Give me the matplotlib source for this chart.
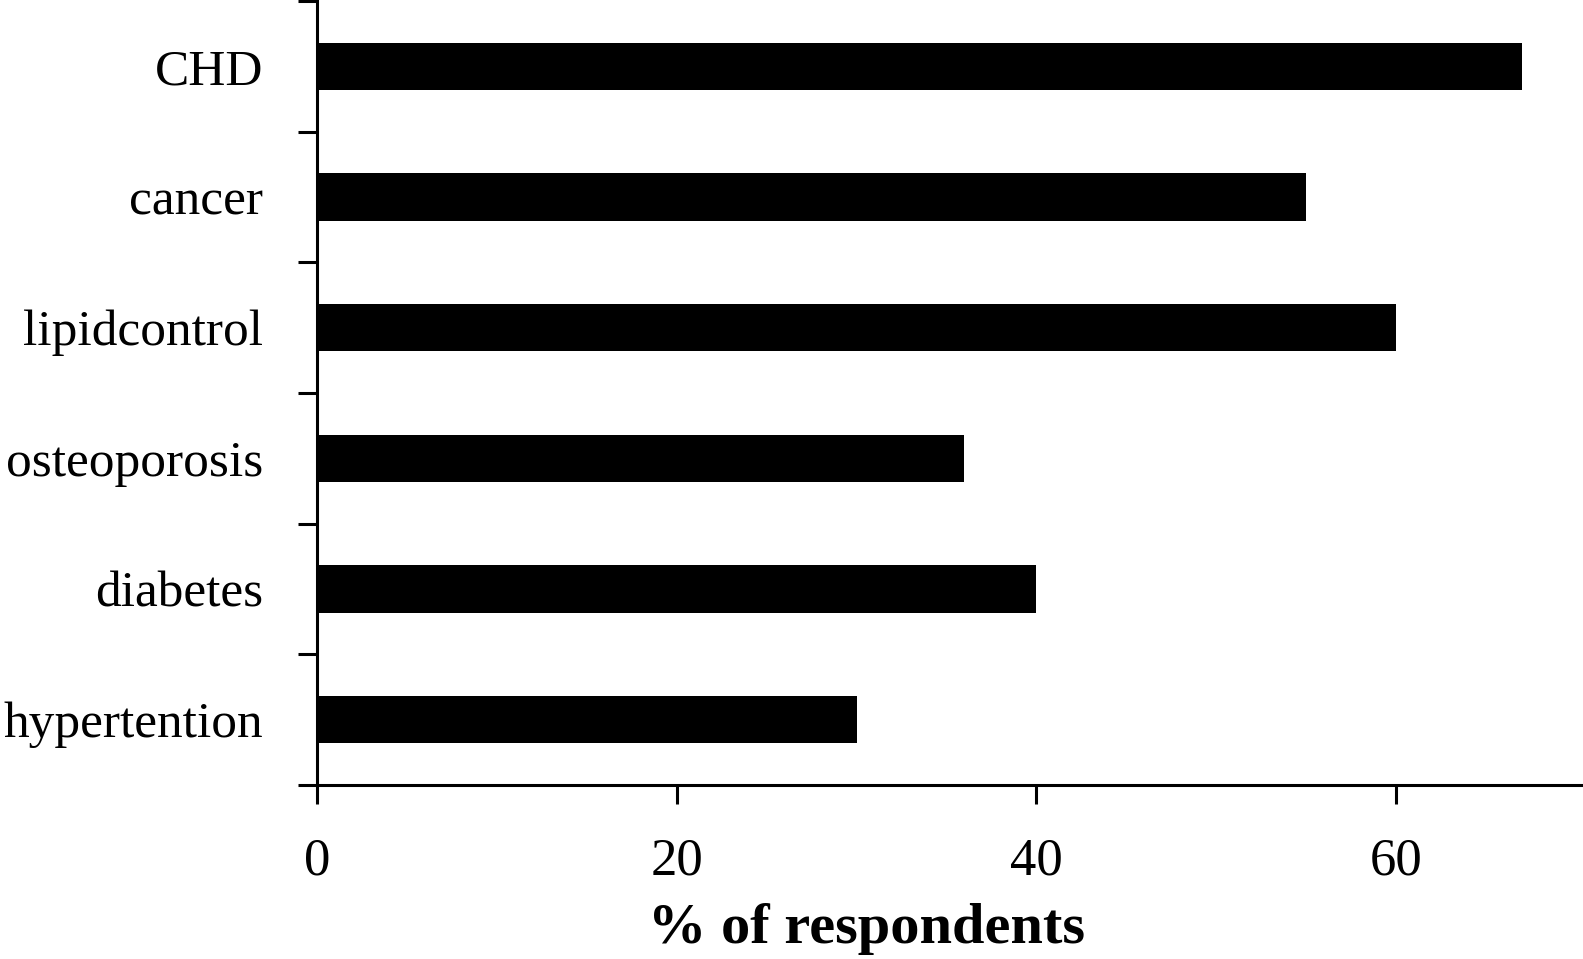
"""Horizontal bar chart: % of respondents by condition."""

import matplotlib

matplotlib.use("Agg")
import matplotlib.pyplot as plt
import numpy as np

categories = ["CHD", "cancer", "lipidcontrol", "osteoporosis", "diabetes", "hypertention"]
percent = [67, 55, 60, 36, 40, 30]
x_ticks = [0, 20, 40, 60]

plt.rcParams["font.family"] = ["Liberation Serif", "DejaVu Serif"]

fig = plt.figure(figsize=(15.83, 9.59), dpi=100)
ax = fig.add_axes([0.2003, 0.1814, 0.7997, 0.8176])

pos = np.arange(len(categories))
ax.barh(pos, percent, height=0.36, color="black")

ax.set_xlim(0, 70.4)
ax.set_ylim(len(categories) - 0.5, -0.5)

# boundary ticks between categories, labels centered on the bars
ax.set_yticks(np.arange(-0.5, len(categories)), labels=[])
ax.set_yticks(pos, labels=categories, minor=True)
ax.tick_params(axis="y", which="major", direction="out", length=14, width=2.2)
ax.tick_params(axis="y", which="minor", length=0, pad=39, labelsize=37)

ax.set_xticks(x_ticks)
ax.tick_params(axis="x", direction="out", length=14, width=2.2, pad=24, labelsize=38)
ax.set_xlabel("% of respondents", fontsize=42, fontweight="bold")
ax.xaxis.set_label_coords(0.434, -0.15)

for side in ("top", "right"):
    ax.spines[side].set_visible(False)
for side in ("left", "bottom"):
    ax.spines[side].set_linewidth(2.2)

fig.savefig("out.png", dpi=100)
plt.close(fig)
